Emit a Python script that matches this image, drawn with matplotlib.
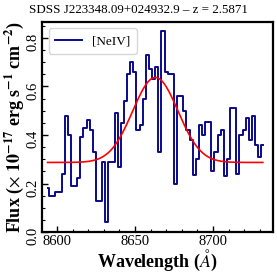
import matplotlib
matplotlib.use("Agg")
import matplotlib.pyplot as plt
from matplotlib.ticker import MultipleLocator
import numpy as np

plt.rcParams["font.family"] = ["Liberation Serif", "DejaVu Serif"]
plt.rcParams["mathtext.fontset"] = "stix"

# binned spectrum (bin centres in Angstrom) and flux (1e-17 erg/s/cm2/A)
wave = [8593.9, 8595.9, 8597.9, 8599.9, 8601.9, 8603.9, 8605.9, 8607.9, 8609.9, 8611.9,
        8613.9, 8615.9, 8617.9, 8619.9, 8621.9, 8623.9, 8625.9, 8627.9, 8629.9, 8631.9,
        8633.9, 8635.9, 8637.9, 8639.9, 8641.9, 8643.9, 8645.9, 8647.9, 8649.9, 8651.9,
        8653.9, 8655.9, 8657.9, 8659.9, 8661.9, 8663.9, 8665.9, 8667.9, 8669.9, 8671.9,
        8673.9, 8675.9, 8677.9, 8679.9, 8681.9, 8683.9, 8685.9, 8687.9, 8689.9, 8691.9,
        8693.9, 8695.9, 8697.9, 8699.9, 8701.9, 8703.9, 8705.9, 8707.9, 8709.9, 8711.9,
        8713.9, 8715.9, 8717.9, 8719.9, 8721.9, 8723.9, 8725.9, 8727.9, 8729.9, 8731.9]
flux = [0.18, 0.15, 0.15, 0.165, 0.165, 0.24, 0.48, 0.40, 0.19, 0.19,
        0.225, 0.39, 0.43, 0.46, 0.42, 0.33, 0.13, 0.13, 0.29, 0.04,
        0.29, 0.29, 0.49, 0.27, 0.45, 0.54, 0.65, 0.70, 0.66, 0.42,
        0.44, 0.55, 0.73, 0.67, 0.63, 0.68, 0.33, 0.83, 0.66, 0.65,
        0.65, 0.20, 0.56, 0.56, 0.50, 0.42, 0.38, 0.235, 0.30, 0.44,
        0.40, 0.455, 0.455, 0.25, 0.33, 0.40, 0.42, 0.23, 0.30, 0.51,
        0.51, 0.24, 0.40, 0.42, 0.47, 0.38, 0.48, 0.36, 0.31, 0.36]

# gaussian fit of the line: continuum, amplitude, centre, sigma
fit_cont = 0.287
fit_amp = 0.35
fit_center = 8663.0
fit_sigma = 14.5

title = "SDSS J223348.09+024932.9 \u2013 z = 2.5871"


def main():
    fig = plt.figure(figsize=(2.77, 2.77), dpi=100)
    ax = fig.add_axes([0.152, 0.162, 0.834, 0.759])

    ax.step(wave, flux, where="mid", color="#0a0a8c", lw=1.4, label="[NeIV]")
    xs = np.linspace(wave[0], wave[-1], 400)
    model = fit_cont + fit_amp * np.exp(-0.5 * ((xs - fit_center) / fit_sigma) ** 2)
    ax.plot(xs, model, color="red", lw=1.2)

    ax.set_xlim(8590.4, 8738.5)
    ax.set_ylim(0, 0.866)
    ax.xaxis.set_major_locator(MultipleLocator(50))
    ax.xaxis.set_minor_locator(MultipleLocator(10))
    ax.yaxis.set_major_locator(MultipleLocator(0.2))
    ax.yaxis.set_minor_locator(MultipleLocator(0.05))
    ax.tick_params(which="both", direction="in", labelsize=10.5, pad=2)
    ax.tick_params(which="major", length=4, width=1)
    ax.tick_params(which="minor", length=2.5, width=0.8)
    ax.tick_params(axis="y", labelrotation=90)
    for s in ax.spines.values():
        s.set_linewidth(1.6)

    ax.set_xlabel(r"Wavelength ($\AA$)", fontsize=13, fontweight="bold", labelpad=0)
    ax.set_ylabel(r"Flux ($\times\ \mathbf{10^{-17}}$ erg s$^{\mathbf{-1}}$ cm$^{\mathbf{-2}}$)",
                  fontsize=13, fontweight="bold", labelpad=0)
    fig.text(0.5, 0.965, title, fontsize=9.4, ha="center", va="center")
    ax.legend(loc="upper left", fontsize=9.5, handlelength=2.0, borderpad=0.5)

    fig.savefig("out.png", dpi=100)


if __name__ == "__main__":
    main()
